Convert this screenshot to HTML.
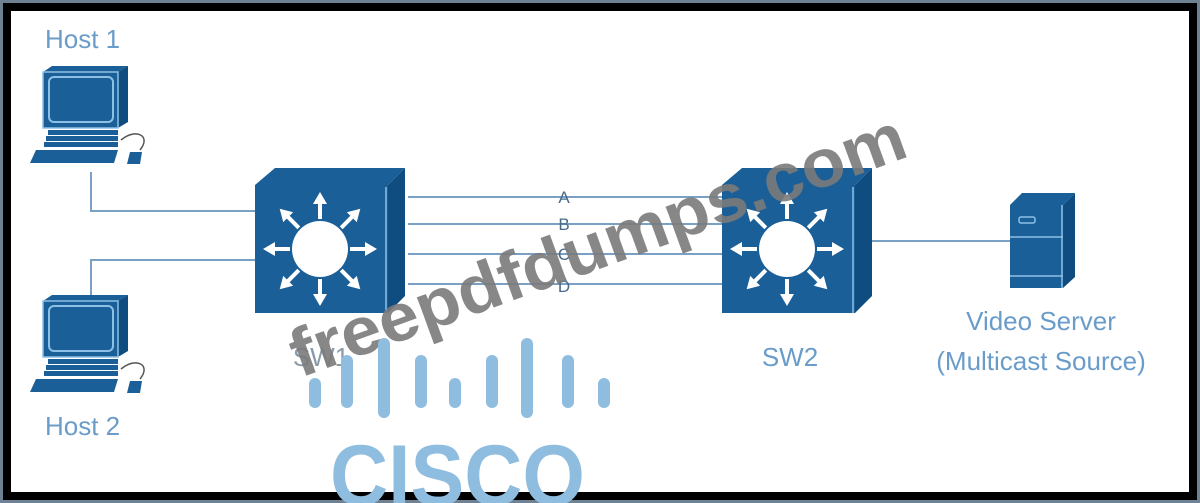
<!DOCTYPE html>
<html><head><meta charset="utf-8"><style>
html,body{margin:0;padding:0;background:#fff}
svg{display:block}
text{font-family:"Liberation Sans",sans-serif}
</style></head><body>
<svg width="1200" height="503" viewBox="0 0 1200 503" xmlns="http://www.w3.org/2000/svg">
<defs>
<g id="pc">
  <polygon points="43,72 52,66 128,66 118,72" fill="#1a5f98"/>
  <polygon points="118,72 128,66 128,122 118,128" fill="#0f4c80"/>
  <rect x="43" y="72" width="75" height="56" fill="#1a5f98" stroke="#8ec0e6" stroke-width="1.5"/>
  <rect x="49" y="77" width="64" height="45" rx="5" fill="#1a5f98" stroke="#8ec0e6" stroke-width="2"/>
  <rect x="48" y="130" width="70" height="5" fill="#1a5f98"/>
  <rect x="46" y="136" width="72" height="5" fill="#1a5f98"/>
  <rect x="44" y="142" width="74" height="5" fill="#1a5f98"/>
  <polygon points="36,150 118,150 114,163 30,163" fill="#1a5f98"/>
  <path d="M121,140 C135,128 152,135 140,150" fill="none" stroke="#555" stroke-width="1.5"/>
  <polygon points="130,152 142,152 140,164 127,164" fill="#1a5f98"/>
</g>
<g id="sw">
  <polygon points="0,17 20,0 150,0 133,17" fill="#1a5f98"/>
  <polygon points="133,17 150,0 150,128 133,145" fill="#0f4c80"/>
  <rect x="0" y="17" width="133" height="128" fill="#1a5f98"/>
  <line x1="131" y1="19" x2="131" y2="145" stroke="#8ec0e6" stroke-width="1.5"/>
  <circle cx="65" cy="81" r="28" fill="#fff"/>
  <g stroke="#fff" stroke-width="4" fill="#fff">
    <line x1="65" y1="51" x2="65" y2="35"/><polygon points="58,36 72,36 65,24" stroke="none"/>
    <line x1="65" y1="111" x2="65" y2="127"/><polygon points="58,126 72,126 65,138" stroke="none"/>
    <line x1="35" y1="81" x2="19" y2="81"/><polygon points="20,74 20,88 8,81" stroke="none"/>
    <line x1="95" y1="81" x2="111" y2="81"/><polygon points="110,74 110,88 122,81" stroke="none"/>
    <g transform="rotate(45 65 81)">
      <line x1="65" y1="51" x2="65" y2="35"/><polygon points="58,36 72,36 65,24" stroke="none"/>
      <line x1="65" y1="111" x2="65" y2="127"/><polygon points="58,126 72,126 65,138" stroke="none"/>
      <line x1="35" y1="81" x2="19" y2="81"/><polygon points="20,74 20,88 8,81" stroke="none"/>
      <line x1="95" y1="81" x2="111" y2="81"/><polygon points="110,74 110,88 122,81" stroke="none"/>
    </g>
  </g>
</g>
</defs>
<rect x="0" y="0" width="1200" height="503" fill="#6f8294"/>
<rect x="3" y="3" width="1194" height="497" fill="#000"/>
<rect x="11" y="11" width="1178" height="481" fill="#fff"/>

<g stroke="#7aa0c4" stroke-width="2" fill="none">
  <polyline points="91,172 91,211 255,211"/>
  <polyline points="91,295 91,260 255,260"/>
  <line x1="408" y1="197" x2="722" y2="197"/>
  <line x1="408" y1="224" x2="722" y2="224"/>
  <line x1="408" y1="254" x2="722" y2="254"/>
  <line x1="408" y1="284" x2="722" y2="284"/>
  <line x1="872" y1="241" x2="1010" y2="241"/>
</g>
<g fill="#4a6a8a" font-size="17" text-anchor="middle">
  <text x="564" y="203">A</text><text x="564" y="230">B</text>
  <text x="564" y="260">C</text><text x="564" y="292">D</text>
</g>

<use href="#pc"/>
<use href="#pc" transform="translate(0,229)"/>
<use href="#sw" transform="translate(255,168)"/>
<use href="#sw" transform="translate(722,168)"/>

<polygon points="1010,205 1022,193 1075,193 1063,205" fill="#1a5f98"/>
<polygon points="1063,205 1075,193 1075,277 1063,288" fill="#0f4c80"/>
<rect x="1010" y="205" width="53" height="83" fill="#1a5f98"/>
<line x1="1010" y1="237" x2="1063" y2="237" stroke="#8ec0e6" stroke-width="1.5"/>
<line x1="1010" y1="276" x2="1063" y2="276" stroke="#8ec0e6" stroke-width="1.5"/>
<line x1="1062" y1="205" x2="1062" y2="288" stroke="#8ec0e6" stroke-width="1.5"/>
<rect x="1019" y="217" width="16" height="6" rx="2" fill="none" stroke="#8ec0e6" stroke-width="1.5"/>

<g fill="#6a9cc9" font-size="26">
  <text x="45" y="48">Host 1</text>
  <text x="45" y="435">Host 2</text>
  <text x="790" y="366" text-anchor="middle">SW2</text>
  <text x="321" y="366" text-anchor="middle" fill="#8a9aa8">SW1</text>
  <text x="1041" y="330" text-anchor="middle">Video Server</text>
  <text x="1041" y="370" text-anchor="middle">(Multicast Source)</text>
</g>

<text transform="translate(300,378) rotate(-20)" font-size="68" font-weight="bold" fill="#7a7a7a" fill-opacity="0.9" textLength="650" lengthAdjust="spacingAndGlyphs">freepdfdumps.com</text>

<g fill="#8fbde0">
  <rect x="309" y="378" width="12" height="30" rx="6"/>
  <rect x="341" y="355" width="12" height="53" rx="6"/>
  <rect x="378" y="338" width="12" height="80" rx="6"/>
  <rect x="415" y="355" width="12" height="53" rx="6"/>
  <rect x="449" y="378" width="12" height="30" rx="6"/>
  <rect x="486" y="355" width="12" height="53" rx="6"/>
  <rect x="521" y="338" width="12" height="80" rx="6"/>
  <rect x="562" y="355" width="12" height="53" rx="6"/>
  <rect x="598" y="378" width="12" height="30" rx="6"/>
  <text x="330" y="505" font-size="86" font-weight="bold" textLength="255" lengthAdjust="spacingAndGlyphs">CISCO</text>
</g>
</svg>
</body></html>
